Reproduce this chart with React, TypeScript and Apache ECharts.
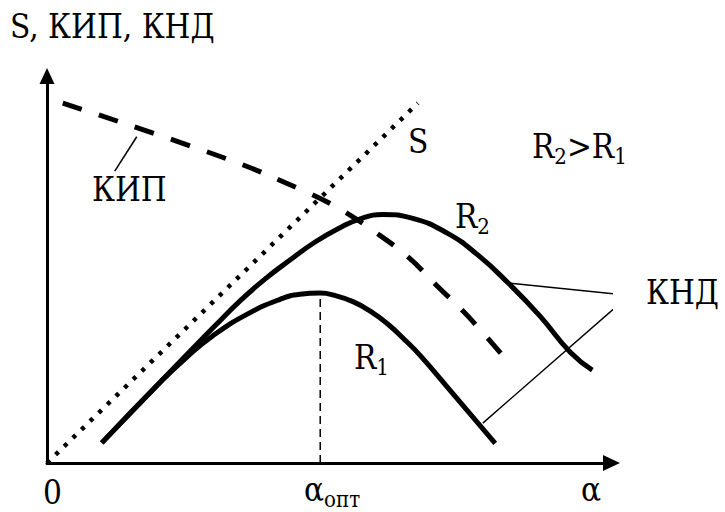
import React, { useEffect, useRef } from 'react';
import * as echarts from 'echarts';

// Both axes run over arbitrary units 0..100 (alpha horizontally, S / КИП / КНД vertically).
const sLine: [number, number][] = [
  [0, 0],
  [65.7, 93.0],
];

const kipCurve: [number, number][] = [
  [2.8, 93.0],
  [32.4, 78.3],
  [45.2, 70.5],
  [51.6, 65.9],
  [58.1, 59.7],
  [64.0, 53.2],
  [69.3, 45.5],
  [74.4, 38.2],
  [81.7, 26.1],
];

const kndR2: [number, number][] = [
  [9.7, 5.2],
  [20.0, 20.8],
  [29.8, 35.5],
  [34.2, 41.9],
  [38.6, 47.5],
  [43.1, 52.5],
  [47.5, 57.1],
  [51.9, 60.8],
  [55.5, 63.1],
  [59.5, 64.2],
  [64.8, 63.2],
  [70.9, 59.4],
  [76.2, 53.9],
  [81.7, 46.5],
  [87.3, 38.0],
  [92.7, 28.6],
  [96.6, 24.0],
];

const kndR1: [number, number][] = [
  [9.7, 5.2],
  [20.0, 20.8],
  [24.5, 27.0],
  [29.4, 32.9],
  [35.4, 38.4],
  [41.3, 42.3],
  [44.8, 43.6],
  [48.4, 43.9],
  [51.0, 43.3],
  [54.2, 41.7],
  [57.2, 39.3],
  [60.2, 36.1],
  [63.4, 31.8],
  [66.1, 27.8],
  [71.9, 17.9],
  [79.4, 5.1],
];

// Callout leaders pointing at the curves
const kipLeader: [number, number][] = [
  [12.0, 75.4],
  [15.9, 84.3],
];
const kndLeader: [number, number][] = [
  [81.7, 46.5],
  [103.1, 43.3],
  [77.2, 10.3],
];

// Labels
const axisTitle = 'S, КИП, КНД';
const kipLabel = 'КИП';
const sLabel = 'S';
const kndLabel = 'КНД';
const relation = 'R{sub|2}>R{sub|1}';
const r2Label = 'R{sub|2}';
const r1Label = 'R{sub|1}';
const zeroLabel = '0';
const optLabel = 'α{sub|опт}';
const alphaLabel = 'α';

// The optimum alpha sits at the peak of the R1 curve
const r1Peak = kndR1.reduce((best, p) => (p[1] > best[1] ? p : best), kndR1[0]);
const optLine: [number, number][] = [
  [r1Peak[0], 0],
  [r1Peak[0], r1Peak[1]],
];

const FAMILY = 'DejaVu Serif Condensed';
const subRich = {
  sub: { fontSize: 22, fontFamily: FAMILY, fill: '#000', padding: [20, 0, 0, 0] },
};

function label(text: string, x: number, y: number, rich = false) {
  return {
    type: 'text',
    x,
    y,
    style: {
      text,
      fontSize: 33,
      fontFamily: FAMILY,
      fill: '#000',
      align: 'left',
      verticalAlign: 'middle',
      ...(rich ? { rich: subRich } : {}),
    },
  };
}

export default function App() {
  const ref = useRef<HTMLDivElement>(null);

  useEffect(() => {
    if (!ref.current) return;
    const chart = echarts.init(ref.current, null, { renderer: 'svg' });

    const axisLine = (size: number[]) => ({
      show: true,
      onZero: false,
      symbol: ['none', 'triangle'],
      symbolSize: size,
      lineStyle: { color: '#000', width: 3 },
    });

    const lineSeries = (data: [number, number][], width: number, type: any, smooth: number | boolean = false) => ({
      type: 'line',
      data,
      smooth,
      symbol: 'none',
      clip: false,
      silent: true,
      lineStyle: { color: '#000', width, type, cap: 'butt' },
    });

    chart.setOption({
      animation: false,
      backgroundColor: '#fff',
      grid: { left: 47, right: 113.5, top: 76, bottom: 49, containLabel: false },
      xAxis: {
        type: 'value',
        min: 0,
        max: 100,
        axisLine: axisLine([16, 17]),
        axisTick: { show: false },
        axisLabel: { show: false },
        splitLine: { show: false },
      },
      yAxis: {
        type: 'value',
        min: 0,
        max: 100,
        axisLine: axisLine([15, 16]),
        axisTick: { show: false },
        axisLabel: { show: false },
        splitLine: { show: false },
      },
      series: [
        lineSeries(sLine, 4.5, [4, 8]),
        lineSeries(kipCurve, 5, [20, 18], 0.4),
        lineSeries(kndR2, 5, 'solid', 0.5),
        lineSeries(kndR1, 5, 'solid', 0.5),
        lineSeries(optLine, 1.5, [8, 5]),
        lineSeries(kipLeader, 1.5, 'solid'),
        lineSeries(kndLeader, 1.5, 'solid'),
      ],
      graphic: [
        label(axisTitle, 10, 26),
        label(kipLabel, 92, 189),
        label(sLabel, 408, 141),
        label(relation, 532, 146, true),
        label(r2Label, 455, 216, true),
        label(r1Label, 354, 357, true),
        label(kndLabel, 646, 292),
        label(zeroLabel, 43, 492),
        label(optLabel, 304, 489, true),
        label(alphaLabel, 581, 489),
      ],
    });

    return () => chart.dispose();
  }, []);

  return (
    <div
      ref={ref}
      style={{ position: 'fixed', left: 0, top: 0, width: 725, height: 512, background: '#fff' }}
    />
  );
}
